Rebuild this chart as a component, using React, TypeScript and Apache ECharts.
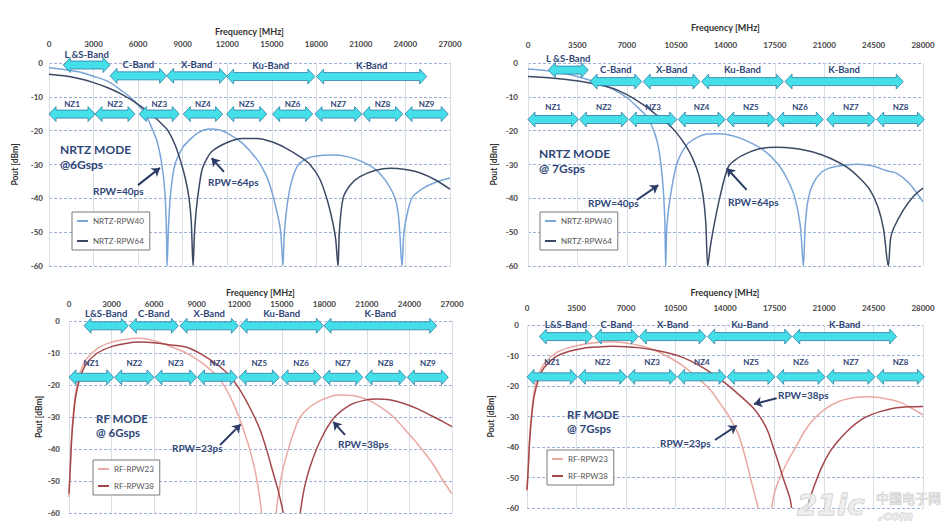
import React, { useEffect, useRef } from "react";
import * as echarts from "echarts";

// ---------- data (MHz, dBm); "-" marks where a curve leaves the plot below -60 ----------
const nrtz6Rpw40 = [
  [0, -1.4], [1000, -1.9], [2000, -2.6], [3000, -3.9], [4000, -5.5], [5000, -8.5], [5500, -10.2], [6000, -12.4], [6500, -15.2], [7000, -20], [7300, -23.5], [7600, -30], [7800, -38], [7900, -48], [7950, -60],
  [8050, -48], [8200, -38], [8480, -30], [9000, -25], [9400, -23], [10000, -20.7], [10800, -19.5], [11500, -19.8], [12000, -20.7], [13000, -23.6], [14000, -28.5], [14600, -33], [15000, -38], [15400, -45], [15600, -50], [15750, -60],
  [15850, -50], [16100, -40], [16400, -34], [16800, -30], [17500, -28], [18400, -27.3], [19100, -27.2], [20000, -27.6], [21000, -29], [22000, -31.5], [22700, -35], [23300, -40], [23550, -46], [23770, -60],
  [23900, -50], [24200, -43], [24500, -39.5], [25200, -37], [26000, -35.3], [27000, -34],
];
const nrtz6Rpw64 = [
  [0, -3.3], [1000, -3.8], [2000, -4.6], [3000, -5.8], [4000, -7.4], [5000, -9.5], [6000, -12.2], [7000, -15.6], [7500, -17.6], [8000, -19.9], [8500, -24.3], [8930, -30], [9200, -34.5], [9430, -40], [9580, -47], [9700, -60],
  [9800, -50], [9950, -42], [10280, -32], [10600, -28.5], [11000, -26], [12000, -23.5], [13000, -22.3], [14000, -22.3], [15000, -23.3], [16000, -25.3], [17000, -28], [17570, -30], [18200, -34], [18700, -40], [19100, -47], [19300, -52], [19460, -60],
  [19550, -50], [19800, -40], [20300, -36], [20940, -33.6], [22000, -31.7], [23000, -31.1], [24000, -31.5], [25000, -32.5], [26000, -34.5], [27000, -37.3],
];
const nrtz7Rpw40 = [
  [0, -1.8], [1500, -2.4], [3000, -3.5], [4000, -4.6], [5000, -5.9], [6000, -7.7], [7000, -10.2], [7700, -12.8], [8200, -14.8], [8600, -17], [9000, -21], [9250, -25], [9450, -31], [9600, -38], [9700, -47], [9760, -60],
  [9850, -48], [10070, -40], [10540, -30], [11250, -24.2], [12000, -22], [12700, -21], [13600, -20.9], [14500, -21.5], [15500, -23], [16680, -25.7], [17740, -30], [18400, -34.5], [18930, -40], [19300, -48], [19520, -60],
  [19650, -48], [19870, -40], [20230, -35.5], [20800, -32.3], [21410, -31], [22400, -30.2], [23400, -29.9], [24400, -30.4], [25400, -31.8], [26140, -32.6], [27000, -35.5], [28000, -41],
];
const nrtz7Rpw64 = [
  [0, -4], [2000, -4.6], [4000, -5.6], [5500, -6.9], [6500, -8.3], [7500, -10.5], [8400, -13], [9000, -15], [9800, -17.5], [10500, -20.5], [11200, -24.5], [11700, -28.5], [12100, -33], [12400, -39], [12600, -47], [12740, -60],
  [12900, -55], [13140, -49], [13610, -39.5], [14200, -30.7], [14800, -28.3], [15500, -26.7], [16500, -25.3], [17600, -24.9], [18800, -25.2], [20200, -26.3], [21500, -28.3], [22600, -30.8], [23500, -34], [24240, -37.5], [24800, -42.5], [25200, -49], [25540, -60],
  [25700, -52], [25900, -49], [26600, -43.5], [27300, -39.5], [28000, -37],
];
const rf6Rpw23 = [
  [0, -55], [100, -44], [200, -35], [350, -27], [500, -21.5], [800, -16], [1200, -12], [2000, -8.6], [3000, -6.6], [4000, -5.7], [4800, -5.4], [5600, -5.7], [6500, -6.9], [7300, -8.2], [8300, -10.1], [9500, -13.5], [10650, -18.4], [11400, -24], [12060, -31], [12600, -38], [13000, -44.5], [13300, -51], [13580, -60],
  [14100, "-"],
  [14600, -60], [14800, -53], [15100, -46], [15500, -39.5], [15900, -34], [16300, -30], [17000, -26.8], [17700, -24.9], [18500, -23.5], [19100, -23.1], [20000, -23.3], [21000, -24.5], [22000, -27], [22870, -30], [24000, -35.5], [24860, -40], [25700, -45], [26390, -50], [27000, -54],
];
const rf6Rpw38 = [
  [0, -54], [100, -45], [200, -36], [350, -28], [500, -23], [800, -17.5], [1200, -13.5], [2000, -10], [3000, -8], [4000, -7], [5000, -6.6], [6000, -6.8], [7000, -7.4], [8300, -8.2], [9500, -10.8], [10650, -14.3], [11400, -17.5], [12060, -21.6], [12800, -27.5], [13470, -34], [13950, -40.5], [14400, -47.6], [14750, -53], [15110, -60],
  [15700, "-"],
  [16300, -60], [16600, -52], [17000, -45.5], [17700, -37.5], [18640, -30.5], [19800, -26.3], [20800, -24.8], [21700, -24.4], [22600, -24.6], [23500, -25.6], [24500, -27.3], [25500, -29.5], [26300, -31.3], [27000, -33],
];
const rf7Rpw23 = [
  [0, -54.5], [100, -45], [200, -36], [350, -28], [500, -22], [800, -16.5], [1200, -12.8], [2000, -9.3], [3000, -7.4], [4000, -6.3], [5000, -5.7], [5900, -5.5], [7000, -5.9], [8000, -6.8], [9000, -8.2], [10000, -10.5], [11000, -13.3], [12230, -18], [13000, -21.5], [13650, -25.7], [14200, -29.3], [14590, -32.5], [15000, -36.5], [15530, -45], [15900, -52], [16350, -60],
  [16800, "-"],
  [17300, -60], [17500, -55], [17890, -50], [18400, -45], [19070, -39.5], [19600, -35], [20250, -31], [21100, -27.5], [22100, -25], [23200, -23.8], [24200, -23.5], [25200, -24], [26300, -25.2], [27200, -27.3], [28000, -29.5],
];
const rf7Rpw38 = [
  [0, -54], [100, -46], [200, -37], [350, -29], [500, -23.5], [800, -18], [1200, -14], [2000, -10.5], [3000, -8.6], [4000, -7.6], [5000, -7.2], [6000, -7], [7000, -7.1], [8000, -7.5], [9000, -8.2], [10000, -9.2], [11000, -10.6], [12000, -12.8], [13000, -15.6], [14000, -19], [15000, -22.9], [16000, -27.2], [16500, -30.3], [17000, -34.5], [17410, -40], [17800, -45.5], [18100, -50], [18360, -53.5], [18600, -57], [18710, -60],
  [19250, "-"],
  [19820, -60], [20000, -57], [20250, -53.5], [20800, -47], [21420, -41.5], [22000, -38], [22600, -35], [23200, -32.5], [23780, -30.6], [24400, -29.3], [24960, -28.4], [25600, -27.6], [26140, -27.1], [27000, -26.8], [28000, -26.7],
];

// band / Nyquist-zone arrows: [start MHz, end MHz], level dBm
const bandNamesA = ["L &S-Band", "C-Band", "X-Band", "Ku-Band", "K-Band"];
const bandNamesB = ["L&S-Band", "C-Band", "X-Band", "Ku-Band", "K-Band"];
const nzNames9 = ["NZ1", "NZ2", "NZ3", "NZ4", "NZ5", "NZ6", "NZ7", "NZ8", "NZ9"];
const nzNames8 = ["NZ1", "NZ2", "NZ3", "NZ4", "NZ5", "NZ6", "NZ7", "NZ8"];

const bands1 = [[963, 4110], [4110, 7920], [7920, 11960], [11960, 17900], [18020, 25430]];
const bandLevels1 = [-0.6, -3.8, -3.8, -4, -4];
const nz1 = [[0, 3100], [3100, 5790], [6080, 8770], [9040, 11690], [11960, 14660], [15060, 17750], [17910, 21050], [21120, 23810], [23970, 26880]];
const nzLevel1 = -15.1;

const bands2 = [[1440, 4270], [4400, 8060], [8170, 12190], [12310, 18100], [18220, 26600]];
const bandLevels2 = [-2.1, -5.5, -5.5, -5.5, -5.5];
const nz2 = [[0, 3570], [3640, 7110], [7180, 10540], [10650, 13970], [14090, 17510], [17630, 20930], [21170, 24600], [24720, 28100]];
const nzLevel2 = -16.7;

const bands3 = [[1060, 4180], [4250, 7710], [7830, 11940], [12060, 17930], [17980, 25920]];
const bandLevels3 = [-1.5, -1.5, -1.5, -1.5, -1.5];
const nz3 = [[0, 3150], [3220, 5990], [6060, 9000], [9050, 11870], [11990, 14830], [14950, 17770], [17890, 20710], [20870, 23760], [23850, 26740]];
const nzLevel3 = -17.6;

const bands4 = [[870, 4640], [4760, 7870], [7940, 12660], [12780, 18720], [18790, 26140]];
const bandLevels4 = [-3.8, -3.8, -3.8, -3.8, -3.8];
const nz4 = [[0, 3560], [3630, 7050], [7120, 10580], [10650, 14070], [14160, 17530], [17650, 21070], [21190, 24600], [24720, 28100]];
const nzLevel4 = -17;

// annotation arrows [from, to] in data coords
const arrows1 = [[[5990, -36.1], [7470, -31]], [[11780, -32.2], [10950, -28.1]]];
const arrows2 = [[[7710, -40.5], [9240, -36.1]], [[15500, -37.5], [14090, -31.1]]];
const arrows3 = [[[10650, -38.75], [12100, -32.3]], [[19460, -35.6], [18630, -31.5]]];
const arrows4 = [[[13290, -37.7], [14830, -33]], [[17650, -24], [16050, -25.9]]];

const xTicks6 = { max: 27000, interval: 3000 };
const xTicks7 = { max: 28000, interval: 3500 };

// ---------- styles ----------
const C_LIGHTBLUE = "#79a5d8";
const C_DARKBLUE = "#3c4964";
const C_PINK = "#eaa8a2";
const C_DARKRED = "#a4474a";
const NAVY = "#2f4677";
const FONT = "Lato, 'Open Sans', sans-serif";

function arrowSeries(gi: number, ranges: number[][], levels: number[], names: string[], labelDy: number, fontSize: number) {
  return {
    type: "custom",
    xAxisIndex: gi,
    yAxisIndex: gi,
    silent: true,
    clip: false,
    z: 4,
    data: ranges.map((r, i) => [r[0], r[1], levels[i]]),
    encode: { x: [0, 1], y: 2 },
    renderItem: (params: any, api: any) => {
      const p0 = api.coord([api.value(0), api.value(2)]);
      const p1 = api.coord([api.value(1), api.value(2)]);
      const L = p0[0], R = p1[0], cy = p0[1];
      const bh = 4, hh = 7.5, hl = 7;
      const pts = [
        [L, cy], [L + hl, cy - hh], [L + hl, cy - bh], [R - hl, cy - bh], [R - hl, cy - hh],
        [R, cy], [R - hl, cy + hh], [R - hl, cy + bh], [L + hl, cy + bh], [L + hl, cy + hh],
      ];
      return {
        type: "group",
        children: [
          { type: "polygon", shape: { points: pts }, style: { fill: "#45dfe9", stroke: "#2e7ea6", lineWidth: 0.8 } },
          {
            type: "text",
            x: (L + R) / 2,
            y: cy - labelDy,
            style: {
              text: names[params.dataIndex],
              align: "center", verticalAlign: "middle",
              textAlign: "center", textVerticalAlign: "middle",
              fill: NAVY,
              font: `bold ${fontSize}px ${FONT}`,
            },
          },
        ],
      };
    },
  };
}

function lineSeries(gi: number, name: string, data: any[], color: string, arrows?: number[][][]) {
  const s: any = {
    type: "line",
    name,
    xAxisIndex: gi,
    yAxisIndex: gi,
    data,
    showSymbol: false,
    smooth: 0.3,
    connectNulls: false,
    clip: true,
    z: 3,
    itemStyle: { color },
    lineStyle: { color, width: 1.5 },
  };
  if (arrows) {
    s.markLine = {
      silent: true,
      symbol: ["none", "arrow"],
      symbolSize: 8,
      label: { show: false },
      lineStyle: { color: "#2a3b66", width: 2, type: "solid" },
      data: arrows.map((a) => [{ coord: a[0] }, { coord: a[1] }]),
    };
  }
  return s;
}

function xAxisCfg(gi: number, t: { max: number; interval: number }, labelMargin: number, nameGap: number) {
  return {
    type: "value",
    gridIndex: gi,
    position: "top",
    min: 0,
    max: t.max,
    interval: t.interval,
    name: "Frequency [MHz]",
    nameLocation: "middle",
    nameGap,
    nameTextStyle: { fontSize: 9, fontWeight: "bold", color: "#333", fontFamily: FONT },
    axisLine: { show: false },
    axisTick: { show: false },
    axisLabel: { fontSize: 8, color: "#444", fontWeight: "bold", margin: labelMargin, fontFamily: FONT, formatter: (v: number) => String(v) },
    splitLine: { show: true, lineStyle: { color: "#d9dfe8", width: 1 } },
  };
}

function yAxisCfg(gi: number, labelMargin: number, nameGap: number) {
  return {
    type: "value",
    gridIndex: gi,
    min: -60,
    max: 0,
    interval: 10,
    name: "Pout [dBm]",
    nameLocation: "middle",
    nameGap,
    nameRotate: 90,
    nameTextStyle: { fontSize: 8.5, fontWeight: "bold", color: "#333", fontFamily: FONT },
    axisLine: { show: false },
    axisTick: { show: false },
    axisLabel: { fontSize: 8, color: "#444", fontWeight: "bold", margin: labelMargin, fontFamily: FONT },
    splitLine: { show: true, lineStyle: { color: "#9cb0d6", width: 1, type: [3, 2] } },
  };
}

function legendCfg(left: number, top: number, names: string[], gap: number) {
  return {
    left,
    top,
    orient: "vertical",
    data: names,
    icon: "rect",
    itemWidth: 11,
    itemHeight: 2,
    itemGap: gap,
    selectedMode: false,
    padding: [5, 6, 5, 5],
    borderColor: "#7a7a7a",
    borderWidth: 1,
    backgroundColor: "#fff",
    textStyle: { fontSize: 8, color: "#555", fontFamily: FONT },
  };
}

function txt(x: number, y: number, text: string, size: number) {
  return {
    type: "text",
    x,
    y,
    z: 10,
    style: {
      text,
      fill: NAVY,
      font: `bold ${size}px ${FONT}`,
      align: "left", verticalAlign: "middle",
      textAlign: "left", textVerticalAlign: "middle",
    },
  };
}

function mark(x: number, y: number, text: string, font: string, lw: number) {
  return {
    type: "text", x, y, z: 20, silent: true,
    style: {
      text, font,
      fill: "rgba(236,236,236,0.9)", stroke: "#c2c2c2", lineWidth: lw,
      align: "left", verticalAlign: "middle", textAlign: "left", textVerticalAlign: "middle",
    },
  };
}

export default function App() {
  const ref = useRef<HTMLDivElement>(null);

  useEffect(() => {
    if (!ref.current) return;
    const chart = echarts.init(ref.current, null, { renderer: "svg" });
    const option: any = {
      animation: false,
      backgroundColor: "#ffffff",
      textStyle: { fontFamily: FONT },
      grid: [
        { left: 49, top: 63, width: 401, height: 203 },
        { left: 528, top: 63, width: 395, height: 203 },
        { left: 69, top: 321, width: 383, height: 192 },
        { left: 527, top: 325, width: 396, height: 183 },
      ],
      xAxis: [
        xAxisCfg(0, xTicks6, 15, 27),
        xAxisCfg(1, xTicks7, 14, 31),
        xAxisCfg(2, xTicks6, 13, 24),
        xAxisCfg(3, xTicks7, 13, 28),
      ],
      yAxis: [yAxisCfg(0, 6, 30), yAxisCfg(1, 10, 30), yAxisCfg(2, 9, 26), yAxisCfg(3, 8, 32)],
      legend: [
        legendCfg(72, 212, ["NRTZ-RPW40", "NRTZ-RPW64"], 12),
        legendCfg(540, 212, ["NRTZ-RPW40", "NRTZ-RPW64"], 12),
        legendCfg(93, 460, ["RF-RPW23", "RF-RPW38"], 9),
        legendCfg(547, 450, ["RF-RPW23", "RF-RPW38"], 9),
      ],
      series: [
        lineSeries(0, "NRTZ-RPW40", nrtz6Rpw40, C_LIGHTBLUE, arrows1),
        lineSeries(0, "NRTZ-RPW64", nrtz6Rpw64, C_DARKBLUE),
        arrowSeries(0, bands1, bandLevels1, bandNamesA, 11, 9.5),
        arrowSeries(0, nz1, nz1.map(() => nzLevel1), nzNames9, 10, 8),

        lineSeries(1, "NRTZ-RPW40", nrtz7Rpw40, C_LIGHTBLUE, arrows2),
        lineSeries(1, "NRTZ-RPW64", nrtz7Rpw64, C_DARKBLUE),
        arrowSeries(1, bands2, bandLevels2, bandNamesA, 12, 9.5),
        arrowSeries(1, nz2, nz2.map(() => nzLevel2), nzNames8, 13, 8),

        lineSeries(2, "RF-RPW23", rf6Rpw23, C_PINK, arrows3),
        lineSeries(2, "RF-RPW38", rf6Rpw38, C_DARKRED),
        arrowSeries(2, bands3, bandLevels3, bandNamesB, 12, 9.5),
        arrowSeries(2, nz3, nz3.map(() => nzLevel3), nzNames9, 14, 8),

        lineSeries(3, "RF-RPW23", rf7Rpw23, C_PINK, arrows4),
        lineSeries(3, "RF-RPW38", rf7Rpw38, C_DARKRED),
        arrowSeries(3, bands4, bandLevels4, bandNamesB, 12, 9.5),
        arrowSeries(3, nz4, nz4.map(() => nzLevel4), nzNames8, 15, 8),
      ],
      graphic: [
        txt(60, 149, "NRTZ MODE", 12),
        txt(60, 164, "@6Gsps", 12),
        txt(93, 191, "RPW=40ps", 10),
        txt(208, 182, "RPW=64ps", 10),

        txt(539, 153, "NRTZ MODE", 12),
        txt(539, 168, "@ 7Gsps", 12),
        txt(588, 203, "RPW=40ps", 10),
        txt(728, 202, "RPW=64ps", 10),

        txt(96, 418, "RF MODE", 11.5),
        txt(96, 432, "@ 6Gsps", 11.5),
        txt(172, 448, "RPW=23ps", 10),
        txt(338, 444, "RPW=38ps", 10),

        txt(567, 414, "RF MODE", 11.5),
        txt(567, 428, "@ 7Gsps", 11.5),
        txt(660, 443, "RPW=23ps", 10),
        txt(778, 395, "RPW=38ps", 10),

        mark(797, 505, "21ic", "bold italic 29px 'DejaVu Sans', sans-serif", 1),
        mark(876, 497, "中国电子网", "13px 'Noto Sans CJK SC', sans-serif", 0.8),
        mark(878, 515, ".com", "bold italic 13px 'DejaVu Sans', sans-serif", 0.8),
      ],
    };
    chart.setOption(option);
    return () => chart.dispose();
  }, []);

  return (
    <div
      ref={ref}
      style={{ position: "fixed", left: 0, top: 0, width: 945, height: 524, background: "#fff" }}
    />
  );
}
